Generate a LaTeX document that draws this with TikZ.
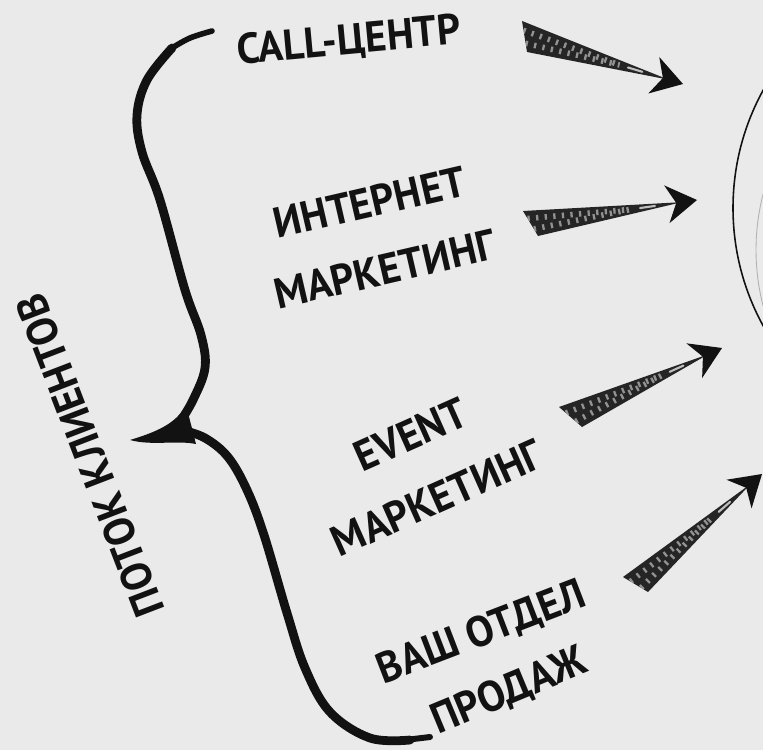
\documentclass[tikz,border=0pt]{standalone}
\usepackage{fontspec}
\newfontfamily\handfont{PT Sans}[FakeStretch=0.96]
\usetikzlibrary{positioning, calc}

\definecolor{paper}{RGB}{234,234,234}
\definecolor{ink}{RGB}{18,18,18}

\tikzset{
  hand/.style={font=\handfont\bfseries\fontsize{24.5}{28}\selectfont, text=ink, anchor=base, inner sep=0pt},
  brace/.style={draw=ink, line width=5pt, line cap=round, line join=round},
  stripes/.style={draw=white, opacity=0.5, line width=3.2pt, dash pattern=on 1.3pt off 3.6pt},
}

\begin{document}
\begin{tikzpicture}[x=0.02cm, y=-0.02cm]
	\fill[paper] (0,0) rectangle (763,750);
	\useasboundingbox (0,0) rectangle (763,750);

	% the brace
	\draw[brace] plot[smooth, tension=0.6] coordinates {(172,48) (147,80) (137,115) (142,152) (160,200) (185,290) (201,335) (205,368) (193,400) (180,422)};
	\draw[brace, line width=3.2pt] plot[smooth, tension=0.6] coordinates {(212,31) (190,38) (172,48)};
	\draw[brace] plot[smooth, tension=0.6] coordinates {(182,430) (205,438) (228,457) (247,490) (264,535) (287,613) (305,668) (330,712) (370,738) (410,740)};
	\draw[brace, line width=3.4pt] (405,740) -- (430,737);
	\fill[ink] (186,405) .. controls (176,424) and (156,432) .. (130,440) .. controls (152,446) and (176,440) .. (196,444) -- cycle;

	% labels
	\node[hand, rotate=111] (flow) at (104,450) {ПОТОК КЛИЕНТОВ};
	\node[hand, rotate=5.3] (call) at (350,54) {CALL-ЦЕНТР};
	\node[hand, rotate=13] (inet) at (373,217) {ИНТЕРНЕТ};
	\node[hand, rotate=13] (inetm) at (388,284) {МАРКЕТИНГ};
	\node[hand, rotate=24] (event) at (417,448) {EVENT};
	\node[hand, rotate=24] (eventm) at (443,512) {МАРКЕТИНГ};
	\node[hand, rotate=21] (sales) at (486,645) {ВАШ ОТДЕЛ};
	\node[hand, rotate=22.5] (salesp) at (514,703) {ПРОДАЖ};

	% arrows: tail upper, tail lower, tip
	\coordinate (u1) at (522,21);  \coordinate (l1) at (527,52);  \coordinate (t1) at (683,84);
	\coordinate (u2) at (523,211); \coordinate (l2) at (538,236); \coordinate (t2) at (697,200);
	\coordinate (u3) at (559,407); \coordinate (l3) at (582,427); \coordinate (t3) at (722,348);
	\coordinate (u4) at (623,577); \coordinate (l4) at (648,592); \coordinate (t4) at (762,474);
	\foreach \i in {1,...,4} {
		\coordinate (m\i) at ($(u\i)!0.5!(l\i)$);
		\fill[ink!92] (u\i) -- (l\i) -- ($(t\i)!0.3cm!(m\i)$) -- cycle;
		\begin{scope}
			\clip (u\i) -- (l\i) -- ($(t\i)!0.3cm!(m\i)$) -- cycle;
			\draw[stripes] ($(u\i)!0.3!(l\i)$) -- ($(m\i)!0.6!(t\i)$);
			\draw[stripes] ($(u\i)!0.72!(l\i)$) -- ($(m\i)!0.6!(t\i)$);
		\end{scope}
		\draw[white, opacity=0.7, line width=1.2pt, line cap=round] ($(t\i)!0.85cm!(m\i)$) -- ($(t\i)!1.15cm!(m\i)$);
		\fill[ink] (t\i) -- ($(t\i)!0.72cm!32:(m\i)$) -- ($(t\i)!0.42cm!(m\i)$) -- ($(t\i)!0.72cm!-32:(m\i)$) -- cycle;
	}

	% the circle on the right
	\begin{scope}
		\clip (0,0) rectangle (763,750);
		\draw[ink, line width=0.9pt] (978,208) circle (245);
		\draw[black!30, line width=0.5pt] (978,250) circle (222);
	\end{scope}
\end{tikzpicture}
\end{document}
